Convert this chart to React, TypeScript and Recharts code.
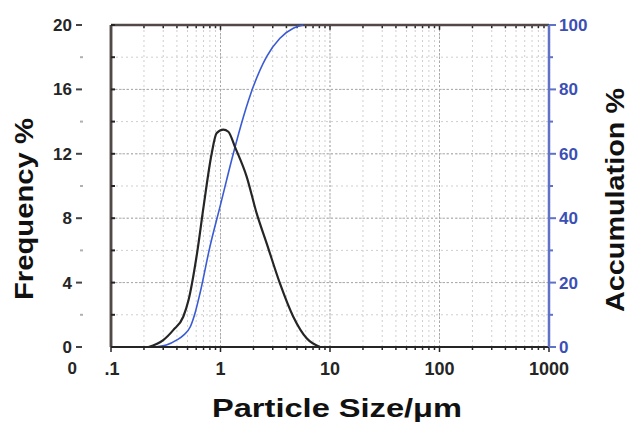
import React from 'react';
import { ComposedChart, Line, XAxis, YAxis, CartesianGrid, ReferenceLine, Label } from 'recharts';

// ---- data ----
const sizeTicks = [
  0.1, 0.2, 0.3, 0.4, 0.5, 0.6, 0.7, 0.8, 0.9,
  1, 2, 3, 4, 5, 6, 7, 8, 9,
  10, 20, 30, 40, 50, 60, 70, 80, 90,
  100, 200, 300, 400, 500, 600, 700, 800, 900,
  1000,
];
const decadeValues = [0.1, 1, 10, 100, 1000];
const decadeLabels = ['.1', '1', '10', '100', '1000'];
const freqTicks = [0, 2, 4, 6, 8, 10, 12, 14, 16, 18, 20];
const freqMajor = [4, 8, 12, 16];
const accTicks = [0, 10, 20, 30, 40, 50, 60, 70, 80, 90, 100];

// Frequency distribution (%), particle size in µm
const freqSize = [0.22, 0.3, 0.37, 0.457, 0.51, 0.61, 0.7, 0.83, 0.92, 1.06, 1.18, 1.36, 1.73, 2.14, 2.64, 3.49, 4.62, 6.12, 8.1];
const freqValue = [0, 0.43, 1.05, 1.88, 2.9, 5.8, 8.7, 12.0, 13.27, 13.5, 13.37, 12.4, 10.6, 8.3, 6.44, 3.95, 1.88, 0.54, 0];

// Accumulation (%)
const accSize = [0.25, 0.32, 0.4, 0.46, 0.53, 0.585, 0.65, 0.8, 0.99, 1.31, 1.62, 1.99, 2.64, 3.49, 4.62, 5.7];
const accValue = [0, 0.6, 2.2, 3.7, 6.3, 10.5, 16.7, 31.1, 43.6, 60.1, 71.5, 80.8, 90.2, 95.9, 99.0, 100];

const freqRows = freqSize.map((x, i) => ({ x, v: freqValue[i] }));
const accRows = accSize.map((x, i) => ({ x, v: accValue[i] }));

// ---- styling ----
const FONT = '"Liberation Sans", Arial, Helvetica, sans-serif';
const BLUE_LINE = '#3a5bd4';
const BLUE_AXIS = '#5f72c8';
const BLUE_TEXT = '#3b4fb5';
const DARK = '#252525';
const FRAME = '#514848';

const PLOT_LEFT = 111;
const PLOT_RIGHT = 549;
const PLOT_TOP = 25;
const PLOT_BOTTOM = 347;

const BottomTick = (props: any) => {
  const { x, payload } = props;
  const v = payload.value;
  const idx = decadeValues.findIndex((d) => Math.abs(d - v) < 1e-9);
  const major = idx >= 0;
  return (
    <g>
      <line x1={x} x2={x} y1={PLOT_BOTTOM} y2={PLOT_BOTTOM + (major ? 5 : 3)} stroke={DARK} strokeWidth={1.5} />
      {major && (
        <text x={x + (idx === 0 ? 1 : 0)} y={375} textAnchor="middle" fontFamily={FONT} fontWeight="bold" fontSize={18} fill={DARK}>
          {decadeLabels[idx]}
        </text>
      )}
    </g>
  );
};

const LeftTick = (props: any) => {
  const { y, payload } = props;
  const v = payload.value;
  const major = v % 4 === 0;
  return (
    <g>
      <line x1={PLOT_LEFT} x2={PLOT_LEFT + 4} y1={y} y2={y} stroke={DARK} strokeWidth={2} />
      {major ? (
        <>
          <text x={72} y={y + 6} textAnchor="end" fontFamily={FONT} fontWeight="bold" fontSize={17} fill={DARK}>
            {v}
          </text>
          <line x1={76} x2={82} y1={y} y2={y} stroke="#444" strokeWidth={2} />
        </>
      ) : (
        <line x1={80} x2={83} y1={y} y2={y} stroke="#b0b0b0" strokeWidth={2} />
      )}
      {v === 0 && (
        <text x={77} y={374} textAnchor="end" fontFamily={FONT} fontWeight="bold" fontSize={17} fill={DARK}>
          0
        </text>
      )}
    </g>
  );
};

const RightTick = (props: any) => {
  const { y, payload } = props;
  const v = payload.value;
  const major = v % 20 === 0;
  return (
    <g>
      {major ? (
        <>
          <line x1={PLOT_RIGHT} x2={PLOT_RIGHT + 7} y1={y} y2={y} stroke={BLUE_AXIS} strokeWidth={2} />
          <text x={559} y={y + 6} textAnchor="start" fontFamily={FONT} fontWeight="bold" fontSize={17} fill={BLUE_TEXT}>
            {v}
          </text>
        </>
      ) : (
        <line x1={PLOT_RIGHT} x2={PLOT_RIGHT + 4} y1={y} y2={y} stroke={BLUE_AXIS} strokeWidth={2} />
      )}
    </g>
  );
};

export default function App() {
  return (
    <div style={{ position: 'absolute', left: 0, top: 0, width: 628, height: 422, background: '#fff' }}>
      <ComposedChart width={628} height={422} margin={{ top: PLOT_TOP, right: 0, bottom: 0, left: 0 }}>
        <CartesianGrid
          xAxisId={0}
          yAxisId="f"
          stroke="#cfcfcf"
          strokeDasharray="2 3"
          strokeWidth={1}
        />
        {decadeValues.slice(1, 4).map((d) => (
          <ReferenceLine key={'vx' + d} x={d} xAxisId={0} yAxisId="f" stroke="#a8a8a8" strokeDasharray="2 2" strokeWidth={1} />
        ))}
        {freqMajor.map((d) => (
          <ReferenceLine key={'hy' + d} y={d} xAxisId={0} yAxisId="f" stroke="#a8a8a8" strokeDasharray="2 2" strokeWidth={1} />
        ))}
        {sizeTicks.map((d) => (
          <ReferenceLine
            key={'tt' + d}
            xAxisId={0}
            yAxisId="f"
            segment={[{ x: d, y: 20 }, { x: d, y: decadeValues.includes(d) ? 19.7 : 19.8 }]}
            stroke={DARK}
            strokeWidth={1.5}
          />
        ))}
        <ReferenceLine y={20} xAxisId={0} yAxisId="f" stroke={FRAME} strokeWidth={2.5} />
        <ReferenceLine x={0.1} xAxisId={0} yAxisId="f" stroke={FRAME} strokeWidth={2.5} />
        <XAxis
          xAxisId={0}
          dataKey="x"
          type="number"
          scale="log"
          domain={[0.1, 1000]}
          allowDataOverflow
          ticks={sizeTicks}
          interval={0}
          height={422 - PLOT_BOTTOM}
          tickLine={false}
          axisLine={{ stroke: DARK, strokeWidth: 2 }}
          tick={<BottomTick />}
        >
          <Label
            content={() => (
              <text x={337} y={416.5} textAnchor="middle" fontFamily={FONT} fontWeight="bold" fontSize={26} fill="#111" textLength={250} lengthAdjust="spacingAndGlyphs">
                Particle Size/μm
              </text>
            )}
          />
        </XAxis>
        <YAxis
          yAxisId="f"
          orientation="left"
          type="number"
          domain={[0, 20]}
          ticks={freqTicks}
          interval={0}
          width={PLOT_LEFT}
          tickLine={false}
          axisLine={{ stroke: FRAME, strokeWidth: 2.5 }}
          tick={<LeftTick />}
        >
          <Label
            content={() => (
              <text x={33} y={209} transform="rotate(-90 33 209)" textAnchor="middle" fontFamily={FONT} fontWeight="bold" fontSize={25} fill="#111" textLength={182} lengthAdjust="spacingAndGlyphs">
                Frequency  %
              </text>
            )}
          />
        </YAxis>
        <YAxis
          yAxisId="a"
          orientation="right"
          type="number"
          domain={[0, 100]}
          ticks={accTicks}
          interval={0}
          width={628 - PLOT_RIGHT}
          tickLine={false}
          axisLine={{ stroke: BLUE_AXIS, strokeWidth: 2.5 }}
          tick={<RightTick />}
        >
          <Label
            content={() => (
              <text x={624} y={200} transform="rotate(-90 624 200)" textAnchor="middle" fontFamily={FONT} fontWeight="bold" fontSize={25} fill="#111" textLength={224} lengthAdjust="spacingAndGlyphs">
                Accumulation %
              </text>
            )}
          />
        </YAxis>
        <Line
          data={accRows}
          dataKey="v"
          xAxisId={0}
          yAxisId="a"
          type="monotone"
          stroke={BLUE_LINE}
          strokeWidth={1.6}
          dot={false}
          activeDot={false}
          isAnimationActive={false}
        />
        <Line
          data={freqRows}
          dataKey="v"
          xAxisId={0}
          yAxisId="f"
          type="monotone"
          stroke={DARK}
          strokeWidth={2.2}
          dot={false}
          activeDot={false}
          isAnimationActive={false}
        />
      </ComposedChart>
    </div>
  );
}
